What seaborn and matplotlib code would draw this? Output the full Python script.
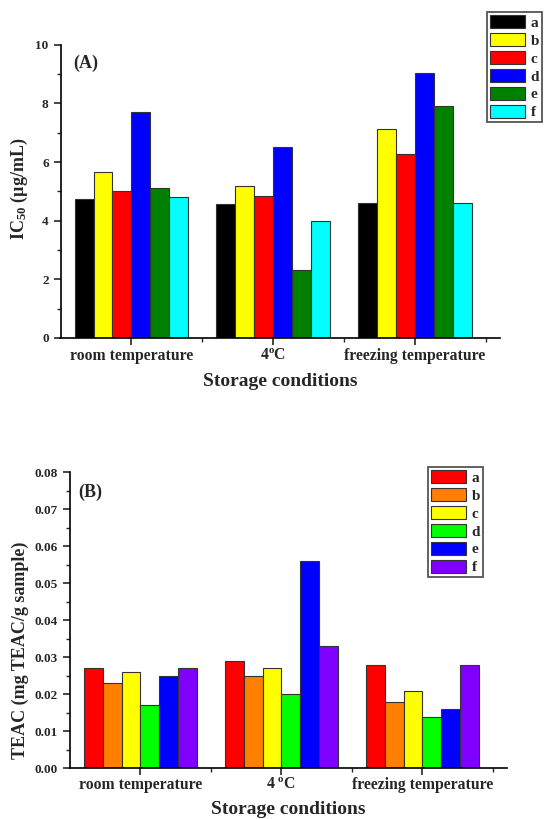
import matplotlib
matplotlib.use("Agg")
import matplotlib.pyplot as plt
from matplotlib.ticker import MultipleLocator, FixedLocator
import seaborn as sns
import pandas as pd

sns.set_style("ticks")
plt.rcParams['font.family'] = ['Liberation Serif', 'DejaVu Serif']
plt.rcParams['font.weight'] = 'bold'
plt.rcParams['mathtext.fontset'] = 'custom'
plt.rcParams['mathtext.rm'] = 'Liberation Serif:bold'
plt.rcParams['mathtext.it'] = 'Liberation Serif:italic:bold'
plt.rcParams['mathtext.bf'] = 'Liberation Serif:bold'

# ---------------- data ----------------
conditions = ["room temperature", "4 °C", "freezing temperature"]
samples = ["a", "b", "c", "d", "e", "f"]

# Panel A: IC50 (µg/mL)
ic50_a = [4.73, 4.57, 4.61]
ic50_b = [5.67, 5.17, 7.11]
ic50_c = [5.02, 4.84, 6.26]
ic50_d = [7.70, 6.52, 9.03]
ic50_e = [5.11, 2.33, 7.92]
ic50_f = [4.80, 3.99, 4.61]

# Panel B: TEAC (mg TEAC/g sample)
teac_a = [0.027, 0.029, 0.028]
teac_b = [0.023, 0.025, 0.018]
teac_c = [0.026, 0.027, 0.021]
teac_d = [0.017, 0.020, 0.014]
teac_e = [0.025, 0.056, 0.016]
teac_f = [0.027, 0.033, 0.028]

xtick_labels_a = ["room temperature", "4$^{\\mathrm{o}}$C", "freezing temperature"]
xtick_labels_b = ["room temperature", "4 $^{\\mathrm{o}}$C", "freezing temperature"]

colors_a = ["#000000", "#FFFF00", "#FF0000", "#0000FF", "#008000", "#00FFFF"]
colors_b = ["#FF0000", "#FF8000", "#FFFF00", "#00FF00", "#0000FF", "#8000FF"]


def long_df(series):
    rows = []
    for s, vals in zip(samples, series):
        for c, v in zip(conditions, vals):
            rows.append({"cond": c, "sample": s, "val": v})
    return pd.DataFrame(rows)


df_a = long_df([ic50_a, ic50_b, ic50_c, ic50_d, ic50_e, ic50_f])
df_b = long_df([teac_a, teac_b, teac_c, teac_d, teac_e, teac_f])

W, H = 544, 819
fig = plt.figure(figsize=(W / 100, H / 100), dpi=100)


def fx(px):
    return px / W


def fy(py):
    return 1 - py / H


def make_panel(df, colors, rect, ylim, major, minor, yfmt, xticklabels, xpad):
    ax = fig.add_axes(rect)
    sns.barplot(data=df, x="cond", y="val", hue="sample", palette=colors,
                saturation=1, edgecolor="#333333", linewidth=0.8,
                errorbar=None, ax=ax, width=0.8)
    ax.set_xlim(-0.5, 2.6)
    ax.set_ylim(*ylim)
    ax.yaxis.set_major_locator(MultipleLocator(major))
    ax.yaxis.set_minor_locator(MultipleLocator(minor))
    ax.yaxis.set_major_formatter(matplotlib.ticker.FormatStrFormatter(yfmt))
    ax.set_xticks([0, 1, 2])
    ax.set_xticklabels(xticklabels, fontsize=11.3, fontweight='bold')
    ax.xaxis.set_minor_locator(FixedLocator([0.5, 1.5, 2.5]))
    for sp in ["top", "right"]:
        ax.spines[sp].set_visible(False)
    for sp in ["left", "bottom"]:
        ax.spines[sp].set_linewidth(1.2)
        ax.spines[sp].set_color("black")
    ax.tick_params(axis="both", which="major", length=5, width=1.2, direction="out")
    ax.tick_params(axis="both", which="minor", length=3, width=1.0, direction="out")
    ax.tick_params(axis="y", labelsize=9.5)
    ax.tick_params(axis="x", pad=xpad)
    for lab in ax.get_yticklabels():
        lab.set_fontweight('bold')
    ax.set_xlabel("")
    ax.set_ylabel("")
    return ax


# Panel A
axA = make_panel(df_a, colors_a,
                 [fx(60.5), fy(338), fx(500) - fx(60.5), fy(44.7) - fy(338)],
                 (0, 10), 2, 1, "%d", xtick_labels_a, 2.5)
# Panel B
axB = make_panel(df_b, colors_b,
                 [fx(70), fy(768.3), fx(507) - fx(70), fy(472.3) - fy(768.3)],
                 (0, 0.08), 0.01, 0.005, "%.2f", xtick_labels_b, 1.5)


def place_legend(ax, x0, y0, x1, y1):
    handles, labels = ax.get_legend_handles_labels()
    if ax.get_legend() is not None:
        ax.get_legend().remove()
    leg = fig.legend(handles, labels, loc="upper left",
                     bbox_to_anchor=(fx(x0), fy(y0)), bbox_transform=fig.transFigure,
                     prop={"family": "Liberation Serif", "weight": "bold", "size": 11},
                     handlelength=2.3, handleheight=0.95, labelspacing=0.2,
                     handletextpad=0.35, borderpad=0.2, borderaxespad=0,
                     fancybox=False, framealpha=1, edgecolor="#555555")
    leg.get_frame().set_linewidth(1.3)
    return leg


place_legend(axA, 487, 12, 543, 122)
place_legend(axB, 428, 467, 484, 578)

# Panel letters
fig.text(fx(73), fy(63), "(A)", fontsize=13, fontweight="bold", va="center", ha="left")
fig.text(fx(78), fy(492), "(B)", fontsize=13, fontweight="bold", va="center", ha="left")

# Axis labels
fig.text(fx(280), fy(381), "Storage conditions", fontsize=14, fontweight="bold",
         ha="center", va="center")
fig.text(fx(288), fy(809), "Storage conditions", fontsize=14, fontweight="bold",
         ha="center", va="center")
fig.text(fx(19.5), fy(189), "IC$_{50}$ (µg/mL)", fontsize=13, fontweight="bold",
         rotation=90, ha="center", va="center")
fig.text(fx(20), fy(650), "TEAC (mg TEAC/g sample)", fontsize=13, fontweight="bold",
         rotation=90, ha="center", va="center")

fig.savefig("out.png", dpi=100)
